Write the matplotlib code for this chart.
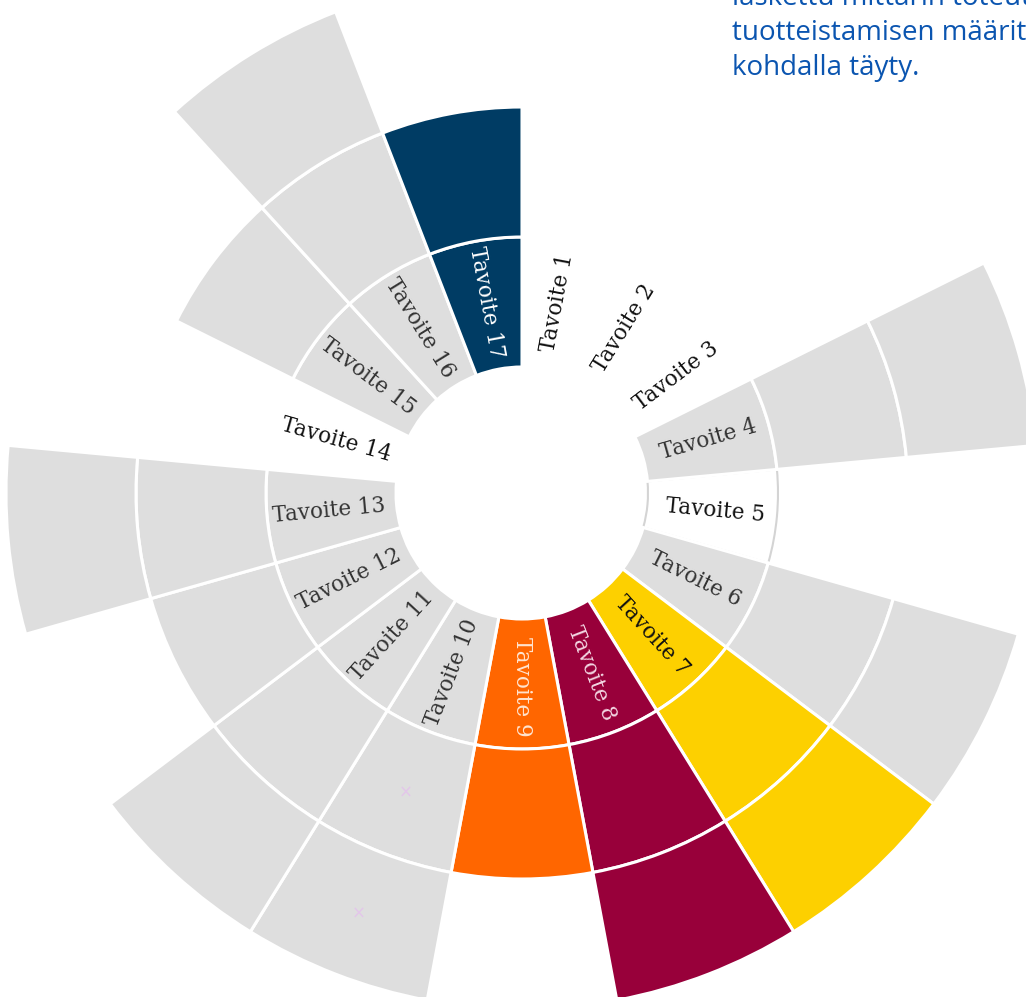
import numpy as np
import matplotlib
matplotlib.use("Agg")
import matplotlib.pyplot as plt

# ---- data ----
goals = ["Tavoite 1", "Tavoite 2", "Tavoite 3", "Tavoite 4", "Tavoite 5",
         "Tavoite 6", "Tavoite 7", "Tavoite 8", "Tavoite 9", "Tavoite 10",
         "Tavoite 11", "Tavoite 12", "Tavoite 13", "Tavoite 14", "Tavoite 15",
         "Tavoite 16", "Tavoite 17"]
rings = [0, 0, 0, 3, 1, 3, 3, 3, 2, 3, 3, 2, 3, 0, 2, 3, 2]
fill_colors = ["#ffffff", "#ffffff", "#ffffff", "#dedede", "#ffffff",
               "#dedede", "#fdd000", "#98003a", "#ff6600", "#dedede",
               "#dedede", "#dedede", "#dedede", "#ffffff", "#dedede",
               "#dedede", "#003c64"]
label_colors = ["#111111", "#111111", "#111111", "#333333", "#111111",
                "#333333", "#111111", "#f3d6e2", "#ffe3cf", "#333333",
                "#333333", "#333333", "#333333", "#111111", "#333333",
                "#333333", "#ffffff"]
note_lines = ["laskettu mittarin toteutuminen",
              "tuotteistamisen määritysten",
              "kohdalla täyty."]

W, H = 1026, 997
cx, cy = 522, 493          # centre in pixels (from top-left)
unit = 130.0               # ring width in pixels
R0 = 126 / unit            # hole radius
rmax = 4.0

fig = plt.figure(figsize=(W / 100, H / 100), dpi=100)
rad_px = rmax * unit
ax = fig.add_axes([(cx - rad_px) / W, (H - cy - rad_px) / H,
                   2 * rad_px / W, 2 * rad_px / H], projection="polar")
ax.set_theta_zero_location("N")
ax.set_theta_direction(-1)
ax.set_ylim(0, rmax)
ax.set_axis_off()

n = len(goals)
width = 2 * np.pi / n
thetas = np.arange(n) * width + width / 2

for i in range(n):
    for k in range(rings[i]):
        if goals[i] == "Tavoite 5":
            ax.bar(thetas[i], 1, bottom=R0 + k, width=width, color="#ffffff",
                   edgecolor="#d4d4d4", linewidth=1.5, zorder=1)
        else:
            ax.bar(thetas[i], 1, bottom=R0 + k, width=width,
                   color=fill_colors[i], edgecolor="white", linewidth=2.2,
                   zorder=2)

# radial labels
for i in range(n):
    deg = np.degrees(thetas[i])
    rot = 90 - deg
    if rot < -90.5:
        rot += 180
    ax.text(thetas[i], R0 + 0.52, goals[i], rotation=rot,
            rotation_mode="anchor", ha="center", va="center",
            family="DejaVu Serif", fontsize=15.5, color=label_colors[i],
            zorder=5)

# faint marks in Tavoite 10
i10 = goals.index("Tavoite 10")
for k in (1, 2):
    ax.text(thetas[i10], R0 + k + 0.5, "×", ha="center", va="center",
            fontsize=12, color="#e3c6ea", zorder=5)

# cropped note at top right
for j, line in enumerate(note_lines):
    fig.text(732 / W, 1 - (5 + 35 * j) / H, line, ha="left", va="baseline",
             family="Open Sans", fontsize=20, color="#0b55b0")

fig.savefig("out.png", dpi=100, facecolor="white")
